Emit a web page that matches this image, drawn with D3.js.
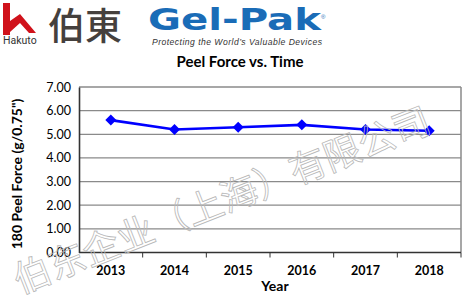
<!DOCTYPE html>
<html>
<head>
<meta charset="utf-8">
<script src="https://cdn.jsdelivr.net/npm/d3@7"></script>
<style>
  body { margin: 0; background: #fff; }
  svg { display: block; }
</style>
</head>
<body>
<div id="chart"></div>
<script>
// Data
const years = ['2013', '2014', '2015', '2016', '2017', '2018'];
const peelForce = [5.6, 5.2, 5.3, 5.4, 5.2, 5.15];
const yTicks = [0, 1, 2, 3, 4, 5, 6, 7];
const watermark = '伯东企业（上海）有限公司';

const WIDTH = 466;
const HEIGHT = 296;
const M = { left: 79, right: 461, top: 87, bottom: 252.5 };
const FONT = 'Lato, "Open Sans", sans-serif';

const svg = d3.select('#chart').append('svg')
  .attr('width', WIDTH)
  .attr('height', HEIGHT);

// Logos header
const hakuto = svg.append('g');
hakuto.append('path')
  .attr('d', 'M3,3 H10 V21 L20,14 L36,33 H29 L20,23 L10,32 V35 H3 Z')
  .attr('fill', '#d0121b');
hakuto.append('text')
  .attr('x', 3).attr('y', 44)
  .attr('font-family', 'Roboto, sans-serif')
  .attr('font-size', 10.5)
  .attr('fill', '#333')
  .text('Hakuto');
hakuto.append('text')
  .attr('x', 48).attr('y', 40)
  .attr('font-family', '"Noto Sans CJK JP", sans-serif')
  .attr('font-weight', 500)
  .attr('font-size', 37)
  .attr('fill', '#45403d')
  .text('伯東');

svg.append('text')
  .attr('x', 148).attr('y', 30)
  .attr('font-family', '"DejaVu Sans", sans-serif')
  .attr('font-weight', 'bold')
  .attr('font-size', 31)
  .attr('textLength', 173)
  .attr('lengthAdjust', 'spacingAndGlyphs')
  .attr('fill', '#1a6cb7')
  .text('Gel-Pak');
svg.append('text')
  .attr('x', 321).attr('y', 19)
  .attr('font-family', 'sans-serif')
  .attr('font-size', 6)
  .attr('fill', '#1a6cb7')
  .text('®');
svg.append('text')
  .attr('x', 152).attr('y', 45)
  .attr('font-family', '"Liberation Sans", Arial, sans-serif')
  .attr('font-style', 'italic')
  .attr('font-size', 8.6)
  .attr('textLength', 170)
  .attr('fill', '#333')
  .text('Protecting the World\u2019s Valuable Devices');

// Title
svg.append('text')
  .attr('x', 240).attr('y', 67)
  .attr('text-anchor', 'middle')
  .attr('font-family', FONT)
  .attr('font-weight', 'bold')
  .attr('font-size', 15)
  .attr('fill', '#000')
  .text('Peel Force vs. Time');

// Scales
const x = d3.scaleBand(years, [M.left, M.right]);
const y = d3.scaleLinear([0, 7], [M.bottom, M.top]);

// Gridlines
svg.append('g')
  .selectAll('line')
  .data(yTicks.slice(1))
  .join('line')
  .attr('x1', M.left).attr('x2', M.right)
  .attr('y1', d => y(d)).attr('y2', d => y(d))
  .attr('stroke', '#8a8a8a')
  .attr('stroke-width', 1.3);

// Right border
svg.append('line')
  .attr('x1', M.right).attr('x2', M.right)
  .attr('y1', M.top).attr('y2', M.bottom)
  .attr('stroke', '#8a8a8a')
  .attr('stroke-width', 1.5);

// Y axis
const yAxis = d3.axisLeft(y)
  .tickValues(yTicks)
  .tickFormat(d3.format('.2f'))
  .tickSize(0)
  .tickPadding(8);
const gy = svg.append('g')
  .attr('transform', `translate(${M.left},0)`)
  .call(yAxis);
gy.select('.domain').attr('stroke', '#333').attr('stroke-width', 1.6);
gy.selectAll('text')
  .attr('font-family', FONT)
  .attr('font-size', 12.5)
  .attr('fill', '#000');

// X axis with ticks on category boundaries
const gx = svg.append('g')
  .attr('transform', `translate(0,${M.bottom})`);
gx.append('line')
  .attr('x1', M.left).attr('x2', M.right)
  .attr('stroke', '#333').attr('stroke-width', 1.6);
gx.selectAll('line.tick')
  .data(years.slice(1).concat(['end']))
  .join('line')
  .attr('class', 'tick')
  .attr('x1', d => d === 'end' ? M.right : x(d))
  .attr('x2', d => d === 'end' ? M.right : x(d))
  .attr('y1', 0).attr('y2', 5)
  .attr('stroke', '#333').attr('stroke-width', 1);
gx.selectAll('text')
  .data(years)
  .join('text')
  .attr('x', d => x(d) + x.bandwidth() / 2)
  .attr('y', 22)
  .attr('text-anchor', 'middle')
  .attr('font-family', FONT)
  .attr('font-weight', 'bold')
  .attr('font-size', 12.5)
  .attr('fill', '#000')
  .text(d => d);

// Axis titles
svg.append('text')
  .attr('x', 275).attr('y', 291)
  .attr('text-anchor', 'middle')
  .attr('font-family', FONT)
  .attr('font-weight', 'bold')
  .attr('font-size', 14)
  .text('Year');
svg.append('text')
  .attr('transform', 'translate(22,174) rotate(-90)')
  .attr('text-anchor', 'middle')
  .attr('font-family', FONT)
  .attr('font-weight', 'bold')
  .attr('font-size', 14)
  .text('180 Peel Force (g/0.75")');

// Series
const pts = years.map((yr, i) => ({ yr, v: peelForce[i] }));
svg.append('path')
  .datum(pts)
  .attr('fill', 'none')
  .attr('stroke', '#0000ff')
  .attr('stroke-width', 2.6)
  .attr('d', d3.line()
    .x(d => x(d.yr) + x.bandwidth() / 2)
    .y(d => y(d.v)));
svg.append('g')
  .selectAll('path')
  .data(pts)
  .join('path')
  .attr('transform', d => `translate(${x(d.yr) + x.bandwidth() / 2},${y(d.v)})`)
  .attr('d', 'M0,-5.5 L5.5,0 L0,5.5 L-5.5,0 Z')
  .attr('fill', '#0000ff');

// Watermark
svg.append('text')
  .attr('transform', 'translate(20,294) rotate(-21.5)')
  .attr('font-family', '"Noto Sans CJK SC", sans-serif')
  .attr('font-size', 37)
  .attr('fill', 'none')
  .attr('stroke', '#b8b8b8')
  .attr('stroke-width', 0.8)
  .text(watermark);
</script>
</body>
</html>
